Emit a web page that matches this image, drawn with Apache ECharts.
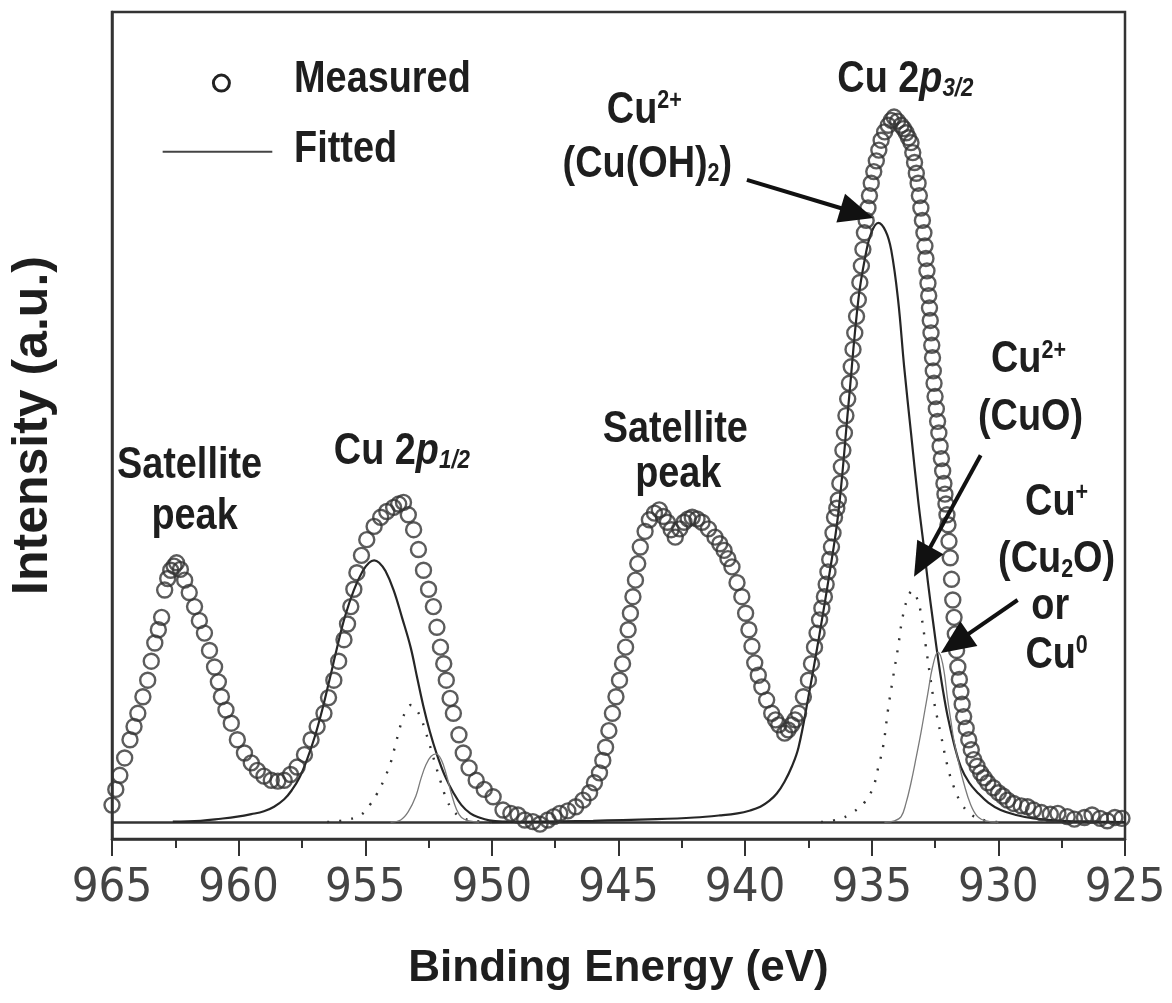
<!DOCTYPE html>
<html><head><meta charset="utf-8">
<script src="https://cdn.jsdelivr.net/npm/echarts@6/dist/echarts.min.js"></script>
<style>html,body{margin:0;padding:0;background:#fff}#c{width:1172px;height:1003px}</style>
</head><body><div id="c"></div>
<script>
// ---- data (binding energy eV, intensity a.u.) ----
const measured = [
[965.00,4.1],[964.85,6.0],[964.69,7.7],[964.50,9.8],[964.29,12.0],[964.13,13.6],[963.98,15.2],[963.78,17.2],[963.59,19.2],[963.45,21.5],[963.31,23.7],[963.17,25.3],[963.04,26.8],[962.92,30.1],[962.80,31.5],[962.68,32.5],[962.55,33.0],[962.45,33.4],[962.30,32.6],[962.13,31.3],[961.95,29.8],[961.74,28.1],[961.55,26.4],[961.35,24.9],[961.15,22.8],[960.95,20.8],[960.80,19.0],[960.68,17.2],[960.50,15.6],[960.29,14.0],[960.05,12.0],[959.77,10.4],[959.50,9.2],[959.26,8.3],[959.00,7.6],[958.71,7.1],[958.45,7.0],[958.20,7.1],[957.95,7.8],[957.69,8.7],[957.40,10.2],[957.14,12.0],[956.90,13.6],[956.63,15.2],[956.45,17.1],[956.24,19.2],[956.05,21.5],[955.84,24.1],[955.70,26.0],[955.57,28.1],[955.45,30.2],[955.33,32.2],[955.15,34.3],[954.94,36.2],[954.65,37.8],[954.39,38.9],[954.15,39.6],[953.88,40.1],[953.68,40.5],[953.49,40.7],[953.30,39.2],[953.09,37.4],[952.90,35.0],[952.70,32.5],[952.50,30.2],[952.31,28.1],[952.17,25.6],[952.03,23.2],[951.90,21.2],[951.80,19.2],[951.65,17.0],[951.52,15.2],[951.30,12.6],[951.13,10.4],[950.90,8.6],[950.62,7.1],[950.30,6.0],[949.95,5.1],[949.56,3.5],[949.25,3.1],[948.97,2.9],[948.70,2.3],[948.38,2.1],[948.10,1.8],[947.79,2.3],[947.55,2.7],[947.32,3.1],[947.00,3.4],[946.69,3.9],[946.40,4.7],[946.14,5.6],[945.95,6.8],[945.75,8.0],[945.62,9.5],[945.51,11.1],[945.38,13.1],[945.24,15.2],[945.10,17.2],[944.96,19.2],[944.84,21.2],[944.72,23.2],[944.62,25.3],[944.53,27.3],[944.43,29.3],[944.33,31.3],[944.24,33.3],[944.14,35.3],[943.95,37.2],[943.78,38.6],[943.58,39.4],[943.39,39.8],[943.23,39.0],[943.07,38.3],[942.92,37.4],[942.76,36.5],[942.58,37.5],[942.41,38.3],[942.25,38.7],[942.09,38.9],[941.90,38.7],[941.70,38.3],[941.45,37.5],[941.19,36.5],[941.00,35.7],[940.83,34.9],[940.68,33.9],[940.52,32.9],[940.32,31.0],[940.13,29.3],[939.98,27.3],[939.85,25.3],[939.73,23.3],[939.62,21.3],[939.48,19.8],[939.34,18.4],[939.15,16.8],[938.95,15.2],[938.80,14.4],[938.67,13.8],[938.44,12.8],[938.30,13.2],[938.16,13.8],[938.03,14.4],[937.89,15.2],[937.70,17.2],[937.50,19.2],[937.38,21.2],[937.26,23.2],[937.16,24.9],[937.06,26.5],[936.97,27.9],[936.87,29.3],[936.80,30.8],[936.73,32.3],[936.66,33.8],[936.59,35.3],[936.53,37.0],[936.47,38.9],[936.38,40.0],[936.32,41.0],[936.26,43.0],[936.20,45.0],[936.14,47.0],[936.08,49.1],[936.02,51.2],[935.95,53.2],[935.88,55.1],[935.81,57.1],[935.74,59.2],[935.67,61.2],[935.60,63.2],[935.53,65.2],[935.47,67.3],[935.41,69.3],[935.35,71.3],[935.29,73.3],[935.22,74.8],[935.15,76.3],[935.09,77.8],[935.02,79.3],[934.92,80.7],[934.82,82.0],[934.72,83.3],[934.63,84.5],[934.49,85.5],[934.35,86.3],[934.23,86.9],[934.12,87.3],[933.98,86.8],[933.84,86.3],[933.74,85.9],[933.64,85.4],[933.55,84.8],[933.45,84.2],[933.38,83.0],[933.31,81.8],[933.24,80.5],[933.17,79.3],[933.12,77.8],[933.06,76.3],[933.00,74.8],[932.94,73.3],[932.90,71.7],[932.86,70.2],[932.82,68.7],[932.78,67.2],[932.75,65.7],[932.72,64.2],[932.69,62.7],[932.66,61.2],[932.63,59.7],[932.60,58.2],[932.57,56.6],[932.54,55.1],[932.50,53.5],[932.45,52.0],[932.40,50.5],[932.35,49.1],[932.30,47.5],[932.25,46.0],[932.20,44.5],[932.15,43.0],[932.11,41.7],[932.07,40.5],[932.03,39.2],[931.99,38.0],[931.95,36.0],[931.90,34.0],[931.85,31.4],[931.80,28.9],[931.75,26.8],[931.70,24.8],[931.65,22.8],[931.60,20.8],[931.54,19.3],[931.48,17.8],[931.43,16.3],[931.37,14.8],[931.27,13.4],[931.17,12.0],[931.07,10.8],[930.97,9.6],[930.84,8.8],[930.70,8.0],[930.56,7.4],[930.42,6.8],[930.20,6.2],[930.00,5.6],[929.82,5.2],[929.64,4.7],[929.40,4.3],[929.10,4.0],[928.85,3.9],[928.61,3.5],[928.30,3.2],[927.95,3.0],[927.65,3.1],[927.28,2.7],[927.00,2.4],[926.60,2.6],[926.30,2.9],[925.98,2.5],[925.70,2.2],[925.40,2.6],[925.12,2.5]
];
const background = [[965,2.0],[925,2.0]];
const fitOH_2p12 = [[962.6,2.1],[961.5,2.2],[960.7,2.45],[960.05,2.7],[959.5,3.0],[959.0,3.35],[958.6,3.9],[958.2,4.8],[957.9,5.9],[957.6,7.4],[957.3,9.6],[957.0,12.3],[956.7,15.6],[956.4,19.4],[956.1,23.3],[955.8,26.9],[955.45,30.1],[955.1,32.4],[954.85,33.4],[954.65,33.7],[954.45,33.4],[954.2,32.4],[953.88,30.1],[953.55,26.8],[953.21,23.2],[952.95,19.5],[952.70,16.0],[952.45,13.0],[952.19,10.4],[951.85,7.6],[951.52,5.6],[951.2,4.1],[950.85,3.1],[950.5,2.6],[950.1,2.25],[949.5,2.1],[948.5,2.05]];
const fitCuO_2p12 = [[956.5,2.05],[955.8,2.3],[955.18,2.9],[954.8,4.2],[954.55,5.4],[954.27,7.1],[954.0,9.2],[953.8,11.5],[953.6,13.8],[953.41,15.4],[953.2,16.2],[952.98,15.6],[952.8,14.6],[952.62,13.0],[952.4,10.8],[952.2,8.7],[952.03,7.0],[951.8,4.9],[951.55,3.5],[951.2,2.6],[950.7,2.2],[950.0,2.05]];
const fitCu2O_2p12 = [[954.0,2.05],[953.6,2.3],[953.3,3.3],[953.0,5.2],[952.8,7.3],[952.6,9.0],[952.4,10.0],[952.2,10.3],[952.0,9.6],[951.8,7.8],[951.6,5.5],[951.4,3.6],[951.2,2.6],[950.9,2.2],[950.5,2.05]];
const fitOH_2p32 = [[950.0,2.05],[946.0,2.2],[943.5,2.4],[942.0,2.6],[941.0,2.85],[940.3,3.1],[939.8,3.45],[939.4,3.9],[939.05,4.6],[938.75,5.5],[938.45,6.9],[938.15,8.8],[937.89,11.1],[937.5,17.2],[937.1,24.1],[936.71,31.3],[936.32,39.4],[935.92,52.5],[935.53,65.2],[935.25,70.5],[935.02,73.3],[934.74,74.5],[934.45,73.5],[934.23,71.2],[933.96,65.2],[933.72,57.1],[933.45,49.1],[933.17,41.0],[932.95,35.5],[932.78,31.0],[932.58,26.3],[932.39,22.0],[932.2,18.2],[932.0,14.8],[931.75,11.5],[931.48,8.7],[931.15,6.8],[930.82,5.6],[930.4,4.4],[929.91,3.5],[929.3,2.9],[928.61,2.5],[927.5,2.2],[926.0,2.1],[925.0,2.05]];
const fitCuO_2p32 = [[937.0,2.05],[936.3,2.4],[935.81,3.1],[935.29,4.4],[934.94,6.3],[934.74,8.7],[934.55,11.2],[934.35,15.8],[934.16,19.5],[933.96,23.2],[933.8,26.5],[933.6,29.0],[933.4,30.0],[933.2,29.0],[933.06,27.3],[932.86,23.2],[932.7,19.8],[932.54,16.6],[932.27,12.6],[932.0,8.7],[931.76,6.3],[931.48,4.4],[931.1,3.0],[930.6,2.3],[930.0,2.05]];
const fitCu2O_2p32 = [[934.5,2.05],[934.1,2.2],[933.84,2.7],[933.65,4.3],[933.45,6.8],[933.25,9.8],[933.06,12.8],[932.9,15.6],[932.78,17.7],[932.6,20.8],[932.39,22.6],[932.2,21.2],[932.0,16.8],[931.88,14.4],[931.76,12.0],[931.55,9.0],[931.37,6.8],[931.1,4.2],[930.82,2.7],[930.5,2.2],[930.0,2.05]];
const xTicks = [965,960,955,950,945,940,935,930,925];

// ---- chart ----
const SANS = '"Liberation Sans",Arial,Helvetica,sans-serif';
const COND = '"DejaVu Sans Condensed","Liberation Sans",sans-serif';
const INK = '#1e1e1e';
const chart = echarts.init(document.getElementById('c'), null, {renderer:'canvas'});

const solid = (d) => ({type:'line', data:d, smooth:0.4, symbol:'none', lineStyle:{color:'#262626', width:2.2}, z:3});
const dotted = (d) => ({type:'line', data:d, smooth:0.4, symbol:'none', lineStyle:{color:'#333', width:2.4, type:[2,10]}, z:3});
const thin = (d) => ({type:'line', data:d, smooth:0.4, symbol:'none', lineStyle:{color:'#7a7a7a', width:1.3}, z:3});

chart.setOption({
  animation:false,
  backgroundColor:'#fff',
  grid:{left:107,right:47,top:12,bottom:164,show:true,borderColor:'#333',borderWidth:2.5,backgroundColor:'transparent'},
  xAxis:{type:'value',min:925,max:965,interval:5,inverse:true,
    axisLine:{show:true,onZero:false,lineStyle:{color:'#333',width:2.5}},
    axisTick:{show:true,inside:false,length:17,lineStyle:{color:'#333',width:2}},
    minorTick:{show:true,splitNumber:2,length:9,lineStyle:{color:'#333',width:2}},
    splitLine:{show:false},minorSplitLine:{show:false},
    axisLabel:{fontFamily:COND,fontSize:47,color:'#444',margin:26,
      formatter:(v)=> xTicks.includes(v) ? String(v) : ''},
    name:'Binding Energy (eV)',nameLocation:'middle',nameGap:108,
    nameTextStyle:{fontFamily:SANS,fontWeight:'bold',fontSize:44,color:INK}},
  yAxis:{type:'value',min:0,max:100,
    axisLine:{show:true,onZero:false,lineStyle:{color:'#333',width:2.5}},
    axisTick:{show:false},axisLabel:{show:false},splitLine:{show:false},
    name:'Intensity (a.u.)',nameLocation:'middle',nameGap:54,nameRotate:90,
    nameTextStyle:{fontFamily:SANS,fontWeight:'bold',fontSize:50,color:INK}},
  series:[
    {type:'line',data:background,symbol:'none',lineStyle:{color:'#333',width:2.5},z:2},
    solid(fitOH_2p12), dotted(fitCuO_2p12), thin(fitCu2O_2p12),
    solid(fitOH_2p32), dotted(fitCuO_2p32), thin(fitCu2O_2p32),
    {type:'scatter',data:measured,symbol:'circle',symbolSize:15,
      itemStyle:{color:'rgba(255,255,255,0)',borderColor:'#333',borderWidth:2.4},z:4}
  ]
});

// ---- annotations (anchored in data coordinates) ----
const P = (p) => chart.convertToPixel({gridIndex:0}, p);
const F = 44, SX = 0.86;
const base = {fontFamily:SANS,fontWeight:'bold',fontSize:F,fill:INK};
const tok = (extra) => Object.assign({fontFamily:SANS,fontWeight:'bold',fill:INK,lineHeight:F}, extra);
const rich = {
  n:tok({fontSize:F}),
  it:tok({fontSize:F,fontStyle:'italic'}),
  sup:tok({fontSize:25,verticalAlign:'top'}),
  sub:tok({fontSize:25,verticalAlign:'bottom'}),
  subi:tok({fontSize:26,fontStyle:'italic',verticalAlign:'bottom'})
};
function label(at, text, align){
  const p = P(at);
  return {type:'text',x:p[0],y:p[1],scaleX:SX,z:50,
    style:Object.assign({},base,{text:text,align:align||'center',verticalAlign:'middle',rich:rich})};
}
function arrow(from, to){
  const s = P(from), t = P(to);
  const dx = t[0]-s[0], dy = t[1]-s[1], L = Math.hypot(dx,dy);
  const ux = dx/L, uy = dy/L, nx = -uy, ny = ux;
  const hl = 34, hw = 15;
  const bx = t[0]-ux*hl, by = t[1]-uy*hl;
  return [
    {type:'line',z:50,shape:{x1:s[0],y1:s[1],x2:bx+ux*4,y2:by+uy*4},style:{stroke:'#111',lineWidth:4}},
    {type:'polygon',z:50,shape:{points:[[t[0],t[1]],[bx+nx*hw,by+ny*hw],[bx-nx*hw,by-ny*hw]]},style:{fill:'#111'}}
  ];
}
const legMarker = P([960.68,91.4]);
const legL1 = P([963.0,83.1]), legL2 = P([958.67,83.1]);
const g = [
  {type:'circle',z:50,shape:{cx:legMarker[0],cy:legMarker[1],r:8},style:{fill:'none',stroke:'#222',lineWidth:3}},
  {type:'line',z:50,shape:{x1:legL1[0],y1:legL1[1],x2:legL2[0],y2:legL2[1]},style:{stroke:'#444',lineWidth:2}},
  label([957.81,91.8],'{n|Measured}','left'),
  label([957.81,83.3],'{n|Fitted}','left'),
  label([961.94,45.1],'{n|Satellite}'),
  label([961.74,38.9],'{n|peak}'),
  label([956.24,46.8],'{n|Cu 2}{it|p}{subi|1/2}','left'),
  label([942.76,49.5],'{n|Satellite}'),
  label([942.64,44.0],'{n|peak}'),
  label([936.36,91.8],'{n|Cu 2}{it|p}{subi|3/2}','left'),
  label([943.98,88.1],'{n|Cu}{sup|2+}'),
  label([943.86,81.5],'{n|(Cu(OH)}{sub|2}{n|)}'),
  label([928.81,57.9],'{n|Cu}{sup|2+}'),
  label([928.73,50.9],'{n|(CuO)}'),
  label([927.70,40.7],'{n|Cu}{sup|+}'),
  label([927.70,33.7],'{n|(Cu}{sub|2}{n|O)}'),
  label([927.95,28.1],'{n|or}'),
  label([927.70,22.2],'{n|Cu}{sup|0}')
].concat(arrow([939.93,79.7],[934.94,75.1]))
 .concat(arrow([930.70,46.4],[933.33,31.7]))
 .concat(arrow([929.24,28.9],[932.27,22.5]));
chart.setOption({graphic:g});
</script></body></html>
